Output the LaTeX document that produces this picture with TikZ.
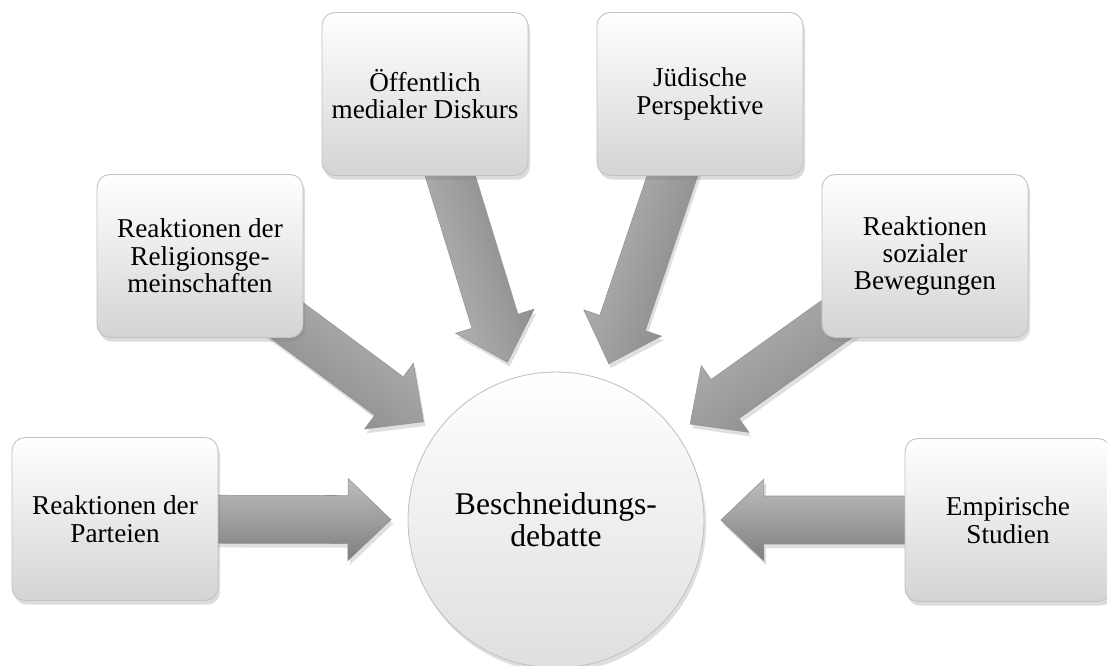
\documentclass[tikz,border=0pt]{standalone}
\usepackage{fontspec}
\setmainfont{Liberation Serif}
\usetikzlibrary{calc,shadows}
\pgfdeclarelayer{bg}
\pgfsetlayers{bg,main}
\definecolor{boxbot}{HTML}{D4D4D4}
\definecolor{boxline}{HTML}{C2C2C2}
\definecolor{arrlight}{HTML}{BEBEBE}
\definecolor{arrdark}{HTML}{7E7E7E}
\tikzset{
  box/.style={draw=boxline, line width=0.5pt, rounded corners=0.26cm,
    minimum width=4.12cm, minimum height=3.26cm, inner sep=2pt,
    top color=white, bottom color=boxbot, align=center,
    font=\fontsize{15.5}{15.6}\selectfont,
    drop shadow={shadow xshift=1.2pt, shadow yshift=-2.4pt, opacity=0.28}},
  hub/.style={circle, draw=boxline, line width=0.5pt, minimum size=5.92cm,
    inner sep=0pt, top color=white, bottom color=boxbot!75, align=center,
    font=\fontsize{18}{18.2}\selectfont,
    drop shadow={shadow xshift=1.2pt, shadow yshift=-2.4pt, opacity=0.25}},
  fat/.style={top color=arrlight, bottom color=arrdark, draw=arrdark!85,
    line width=0.3pt,
    drop shadow={shadow xshift=1.2pt, shadow yshift=-2.4pt, opacity=0.25}}
}
% #1 source box, #2 arrow id, #3 shading angle
\newcommand\fatarrow[3]{%
  \coordinate (#2t) at ($(c.center)!3.3cm!(#1.center)$);
  \coordinate (#2b) at ($(#2t)!0.86cm!(#1.center)$);
  \path[fat, shading angle=#3]
    ($(#1.center)!0.48cm!90:(#2t)$) --
    ($(#2b)!0.48cm!90:(#2t)$) --
    ($(#2b)!0.82cm!90:(#2t)$) --
    (#2t) --
    ($(#2b)!0.82cm!-90:(#2t)$) --
    ($(#2b)!0.48cm!-90:(#2t)$) --
    ($(#1.center)!0.48cm!-90:(#2t)$) -- cycle;
}
\begin{document}
\begin{tikzpicture}[x=0.02cm, y=-0.02cm]
\useasboundingbox (0,0) rectangle (1107,666);
\node[hub] (c) at (556,520) {Beschneidungs-\\debatte};
\node[box] (p) at (115,519) {Reaktionen der\\Parteien};
\node[box] (r) at (200,256) {Reaktionen der\\Religionsge-\\meinschaften};
\node[box] (o) at (425,94) {Öffentlich\\medialer Diskurs};
\node[box] (j) at (700,94) {Jüdische\\Perspektive};
\node[box] (s) at (925,256) {Reaktionen\\sozialer\\Bewegungen};
\node[box] (e) at (1008,520) {Empirische\\Studien};
\begin{pgfonlayer}{bg}
\fatarrow{p}{ap}{0}
\fatarrow{r}{ar}{-36.6}
\fatarrow{o}{ao}{107.1}
\fatarrow{j}{aj}{71.4}
\fatarrow{s}{as}{35.6}
\fatarrow{e}{ae}{0}
\end{pgfonlayer}
\end{tikzpicture}
\end{document}
